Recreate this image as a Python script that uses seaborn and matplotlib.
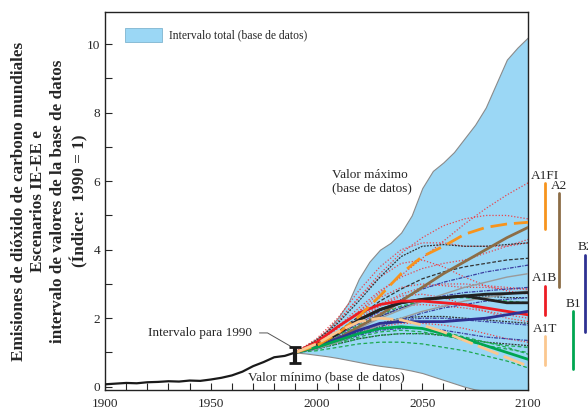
import numpy as np
import pandas as pd
import matplotlib
matplotlib.use("Agg")
import matplotlib.pyplot as plt
import seaborn as sns
from matplotlib.patches import Patch

# historic emissions (index 1990 = 1)
hist_years = [1900, 1905, 1910, 1915, 1920, 1925, 1930, 1935, 1940, 1945, 1950,
              1955, 1960, 1965, 1970, 1975, 1980, 1985, 1990]
hist_vals = [0.07, 0.09, 0.11, 0.10, 0.13, 0.14, 0.16, 0.15, 0.18, 0.17, 0.21,
             0.26, 0.33, 0.44, 0.60, 0.72, 0.86, 0.90, 1.00]

# database range (envelope)
env_years = list(range(1990, 2101, 5))
env_max = [1.0, 1.2, 1.4, 1.65, 2.0, 2.45, 3.15, 3.65, 4.0, 4.2, 4.5, 5.0, 5.8,
           6.3, 6.55, 6.85, 7.25, 7.65, 8.15, 8.85, 9.55, 9.9, 10.2]
env_min = [1.0, 0.97, 0.93, 0.89, 0.84, 0.78, 0.72, 0.66, 0.61, 0.57, 0.53, 0.47,
           0.4, 0.3, 0.2, 0.1, 0.0, -0.08, -0.12, -0.15, -0.17, -0.18, -0.2]

# scenario years
sc_years = [1990, 2000, 2010, 2020, 2030, 2040, 2050, 2060, 2070, 2080, 2090, 2100]

# marker scenarios
a1fi = [1.0, 1.2, 1.55, 2.05, 2.65, 3.3, 3.8, 4.1, 4.45, 4.65, 4.75, 4.8]
a2 = [1.0, 1.15, 1.4, 1.75, 2.1, 2.5, 2.9, 3.3, 3.65, 4.0, 4.35, 4.65]
a1b = [1.0, 1.3, 1.75, 2.15, 2.4, 2.5, 2.5, 2.45, 2.4, 2.3, 2.2, 2.1]
b2 = [1.0, 1.15, 1.4, 1.65, 1.85, 1.9, 1.9, 1.9, 1.95, 2.0, 2.1, 2.2]
b1 = [1.0, 1.15, 1.35, 1.55, 1.7, 1.75, 1.7, 1.55, 1.4, 1.2, 1.0, 0.8]
a1t = [1.0, 1.25, 1.6, 1.9, 2.0, 1.95, 1.8, 1.6, 1.35, 1.1, 0.85, 0.6]
black_main = [1.0, 1.2, 1.55, 1.95, 2.25, 2.45, 2.55, 2.6, 2.65, 2.55, 2.45, 2.45]
black_alt = [1.0, 1.2, 1.55, 1.95, 2.25, 2.45, 2.55, 2.6, 2.65, 2.7, 2.72, 2.75]
gray_1 = [1.0, 1.15, 1.4, 1.7, 2.0, 2.25, 2.5, 2.7, 2.9, 3.05, 3.2, 3.3]
gray_2 = [1.0, 1.1, 1.3, 1.55, 1.8, 2.0, 2.2, 2.35, 2.5, 2.6, 2.7, 2.8]

# other scenarios (thin lines)
red_1 = [1.0, 1.3, 1.7, 2.2, 2.75, 3.25, 3.75, 4.25, 4.75, 5.2, 5.6, 5.95]
red_2 = [1.0, 1.35, 1.9, 2.6, 3.3, 3.9, 4.35, 4.7, 4.9, 5.0, 5.0, 4.9]
red_3 = [1.0, 1.4, 2.0, 2.8, 3.5, 4.0, 4.2, 4.2, 4.1, 4.1, 4.1, 4.2]
red_4 = [1.0, 1.35, 1.9, 2.6, 3.2, 3.6, 3.7, 3.5, 3.2, 2.95, 2.8, 2.7]
red_5 = [1.0, 1.3, 1.7, 2.2, 2.6, 2.9, 3.0, 2.95, 2.9, 2.9, 2.85, 2.85]
red_6 = [1.0, 1.25, 1.6, 2.0, 2.4, 2.7, 2.9, 3.0, 3.0, 2.95, 2.9, 2.85]
red_7 = [1.0, 1.3, 1.75, 2.3, 2.8, 3.2, 3.45, 3.6, 3.7, 3.9, 4.1, 4.3]
red_8 = [1.0, 1.2, 1.5, 1.85, 2.15, 2.35, 2.4, 2.35, 2.3, 2.2, 2.1, 2.0]
red_9 = [1.0, 1.15, 1.35, 1.6, 1.75, 1.85, 1.85, 1.8, 1.7, 1.55, 1.4, 1.3]
red_10 = [1.0, 1.2, 1.55, 1.95, 2.35, 2.65, 2.7, 2.6, 2.4, 2.2, 2.0, 1.9]
black_1 = [1.0, 1.35, 1.85, 2.5, 3.2, 3.8, 4.1, 4.15, 4.1, 4.1, 4.15, 4.2]
black_2 = [1.0, 1.25, 1.6, 2.05, 2.5, 2.85, 3.15, 3.35, 3.5, 3.6, 3.7, 3.75]
black_3 = [1.0, 1.15, 1.4, 1.65, 1.85, 2.0, 2.05, 2.05, 2.0, 1.95, 1.9, 1.85]
black_4 = [1.0, 1.1, 1.25, 1.4, 1.5, 1.55, 1.55, 1.5, 1.4, 1.3, 1.25, 1.2]
black_5 = [1.0, 1.2, 1.45, 1.75, 2.05, 2.3, 2.5, 2.6, 2.65, 2.65, 2.6, 2.6]
blue_1 = [1.0, 1.2, 1.5, 1.85, 2.2, 2.55, 2.85, 3.05, 3.2, 3.35, 3.45, 3.55]
blue_2 = [1.0, 1.2, 1.45, 1.75, 2.05, 2.3, 2.5, 2.65, 2.75, 2.8, 2.85, 2.9]
blue_3 = [1.0, 1.15, 1.35, 1.6, 1.8, 1.95, 2.0, 2.0, 1.95, 1.9, 1.85, 1.8]
blue_4 = [1.0, 1.1, 1.3, 1.5, 1.65, 1.7, 1.7, 1.65, 1.55, 1.45, 1.4, 1.35]
blue_5 = [1.0, 1.15, 1.35, 1.55, 1.75, 1.95, 2.15, 2.3, 2.4, 2.5, 2.55, 2.6]
green_1 = [1.0, 1.2, 1.5, 1.8, 2.1, 2.35, 2.5, 2.6, 2.6, 2.55, 2.5, 2.45]
green_2 = [1.0, 1.1, 1.3, 1.45, 1.6, 1.65, 1.6, 1.5, 1.35, 1.2, 1.1, 1.0]
green_3 = [1.0, 1.05, 1.15, 1.25, 1.3, 1.3, 1.25, 1.15, 1.05, 0.9, 0.75, 0.55]
green_4 = [1.0, 1.1, 1.25, 1.4, 1.5, 1.55, 1.55, 1.5, 1.4, 1.3, 1.2, 1.15]
green_5 = [1.0, 1.15, 1.35, 1.55, 1.7, 1.75, 1.7, 1.6, 1.45, 1.3, 1.15, 0.95]

# scenario family ranges in 2100 (right-hand bars)
fam_names = ["A1FI", "A2", "B2", "A1B", "B1", "A1T"]
fam_low = [4.6, 2.9, 1.6, 2.08, 0.52, 0.64]
fam_high = [5.95, 5.65, 3.85, 2.95, 2.2, 1.48]

sns.set_style("ticks")
plt.rcParams['font.family'] = ['Liberation Serif', 'DejaVu Serif']

fig = plt.figure(figsize=(5.88, 4.12), dpi=100)
ax = fig.add_axes([0.1786, 0.0534, 0.7194, 0.9175])

fill_col = "#9BD7F5"
ax.fill_between(env_years, env_min, env_max, color=fill_col, edgecolor="#8a8a8a",
                linewidth=0.8, zorder=1)

thin = [
    (red_1, "#E8454E", (0, (1, 1.5))), (red_2, "#E8454E", (0, (1, 1.5))),
    (red_3, "#E8454E", (0, (1, 1.5))), (red_4, "#E8454E", (0, (1, 1.5))),
    (red_5, "#E8454E", (0, (1, 1.5))), (red_6, "#E8454E", (0, (1, 1.5))),
    (red_7, "#E8454E", (0, (1, 1.5))), (red_8, "#E8454E", (0, (1, 1.5))),
    (red_9, "#E8454E", (0, (1, 1.5))), (red_10, "#E8454E", (0, (1, 1.5))),
    (black_1, "#333333", (0, (1.5, 1))), (black_2, "#333333", (0, (3, 1.5))),
    (black_3, "#333333", (0, (1.5, 1))), (black_4, "#333333", (0, (1.5, 1))),
    (black_5, "#333333", (0, (1.5, 1))),
    (blue_1, "#3A3FA0", (0, (3, 1, 1, 1))), (blue_2, "#3A3FA0", (0, (3, 1, 1, 1))),
    (blue_3, "#3A3FA0", (0, (3, 1, 1, 1))), (blue_4, "#3A3FA0", (0, (3, 1, 1, 1))),
    (blue_5, "#3A3FA0", (0, (3, 1, 1, 1))),
    (green_1, "#1DA84F", (0, (3, 2))), (green_2, "#1DA84F", (0, (3, 2))),
    (green_3, "#1DA84F", (0, (3, 2))), (green_4, "#1DA84F", (0, (3, 2))),
    (green_5, "#1DA84F", (0, (3, 2))),
]
for vals, col, ls in thin:
    sns.lineplot(x=sc_years, y=vals, ax=ax, color=col, linestyle=ls, linewidth=0.9,
                 zorder=2)

sns.lineplot(x=sc_years, y=gray_1, ax=ax, color="#9a9a9a", linewidth=1.0, zorder=3)
sns.lineplot(x=sc_years, y=gray_2, ax=ax, color="#9a9a9a", linewidth=1.0, zorder=3)

thick = [
    (a2, "#8C6D46", "-"), (black_alt, "#222222", "-"), (black_main, "#222222", "-"),
    (a1b, "#ED1C24", "-"), (b2, "#2E3192", "-"), (b1, "#00A651", "-"),
    (a1fi, "#F7941D", (0, (6, 2.5))), (a1t, "#FBC78F", (0, (8, 2))),
]
for vals, col, ls in thick:
    sns.lineplot(x=sc_years, y=vals, ax=ax, color=col, linestyle=ls, linewidth=2.0,
                 zorder=4)

sns.lineplot(x=hist_years, y=hist_vals, ax=ax, color="#1a1a1a", linewidth=1.6, zorder=5)
ax.errorbar([1990], [1.0], yerr=[[0.32], [0.16]], fmt="none", ecolor="#1a1a1a",
            elinewidth=3.0, capsize=4, capthick=2.0, zorder=6)

# scenario family bars outside the axes
fam_x = [2108, 2114.7, 2127, 2108, 2121.3, 2108]
fam_col = ["#F7941D", "#8C6D46", "#2E3192", "#ED1C24", "#00A651", "#FBC78F"]
for name, x, lo, hi, col in zip(fam_names, fam_x, fam_low, fam_high, fam_col):
    ax.plot([x, x], [lo, hi], color=col, linewidth=2.0, clip_on=False, zorder=5)
    ax.annotate(name, (x, hi), xytext=(0, 1), textcoords="offset points",
                ha="center", va="bottom", fontsize=9.5, annotation_clip=False)

# annotations
ax.annotate("Intervalo para 1990", xy=(1988.6, 1.15), xytext=(1969.5, 1.57),
            ha="right", va="center", fontsize=9.5,
            arrowprops=dict(arrowstyle="-", color="#555555", linewidth=0.7,
                            connectionstyle="angle,angleA=0,angleB=-30,rad=0",
                            shrinkA=3, shrinkB=0))
ax.text(2004.5, 0.28, "Valor mínimo (base de datos)", ha="center", va="center",
        fontsize=9.5)
ax.text(2007.3, 6.0, "Valor máximo\n(base de datos)", ha="left", va="center",
        fontsize=9.5, linespacing=1.15)

ax.legend(handles=[Patch(facecolor=fill_col, edgecolor="#7fb5d0", linewidth=0.6,
                         label="Intervalo total (base de datos)")],
          loc="upper left", bbox_to_anchor=(0.022, 0.985), frameon=False,
          fontsize=8.4, handlelength=3.2, handleheight=1.4, handletextpad=0.6)

ax.set_xlim(1900, 2100)
ax.set_ylim(-0.096, 10.94)
ax.set_xticks([1900, 1950, 2000, 2050, 2100])
ax.set_xticks(range(1900, 2101, 10), minor=True)
ax.set_yticks([0, 2, 4, 6, 8, 10])
ax.set_yticks(range(0, 11), minor=True)
ax.tick_params(which="both", direction="in", length=5, width=0.8, labelsize=9.5,
               top=False, right=False)
ax.tick_params(axis="x", pad=6)
for s in ax.spines.values():
    s.set_visible(True)
    s.set_linewidth(1.0)
    s.set_color("#222222")
ax.set_xlabel("")
ax.set_ylabel("Emisiones de dióxido de carbono mundiales\nEscenarios IE-EE e\n"
              "intervalo de valores de la base de datos\n(Índice:  1990 = 1)",
              fontsize=12.3, fontweight="bold", linespacing=1.3, labelpad=-1)

fig.savefig("out.png", dpi=100)
